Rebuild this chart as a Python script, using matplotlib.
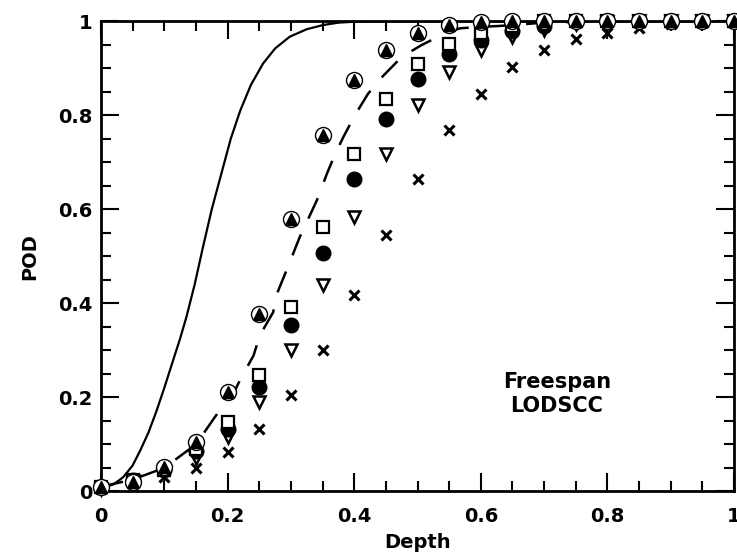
import matplotlib
matplotlib.use('Agg')
import matplotlib.pyplot as plt
from matplotlib.ticker import MultipleLocator

plt.rcParams['font.family'] = ['DejaVu Sans']
plt.rcParams['font.weight'] = 'bold'

# solid curve
curve_x = [0.0, 0.02, 0.035, 0.05, 0.062, 0.075, 0.088, 0.1, 0.114, 0.125, 0.135, 0.148,
           0.16, 0.175, 0.193, 0.205, 0.22, 0.237, 0.256, 0.275, 0.298, 0.325, 0.351, 0.375,
           0.4, 0.45, 0.5, 1.0]
curve_y = [0.006, 0.015, 0.03, 0.055, 0.087, 0.125, 0.172, 0.22, 0.279, 0.325, 0.371, 0.44,
           0.513, 0.6, 0.69, 0.75, 0.81, 0.865, 0.91, 0.942, 0.967, 0.983, 0.992, 0.997,
           0.999, 1.0, 1.0, 1.0]

# dashed curve
dash_x = [0.0, 0.05, 0.1, 0.15, 0.182, 0.209, 0.222, 0.241, 0.251, 0.272, 0.277, 0.293,
          0.314, 0.341, 0.357, 0.37, 0.383, 0.401, 0.422, 0.443, 0.475, 0.506, 0.543,
          0.567, 0.599, 0.63, 0.7, 0.8, 1.0]
dash_y = [0.01, 0.025, 0.05, 0.1, 0.162, 0.208, 0.243, 0.289, 0.332, 0.381, 0.417, 0.47,
          0.541, 0.619, 0.676, 0.718, 0.754, 0.8, 0.846, 0.88, 0.924, 0.949, 0.974,
          0.985, 0.988, 0.99, 0.997, 1.0, 1.0]

depth = [0.0, 0.05, 0.1, 0.15, 0.2, 0.25, 0.3, 0.35, 0.4, 0.45, 0.5,
         0.55, 0.6, 0.65, 0.7, 0.75, 0.8, 0.85, 0.9, 0.95, 1.0]
pod_circ_tri = [0.01, 0.02, 0.052, 0.105, 0.211, 0.378, 0.58, 0.757, 0.874, 0.938, 0.974,
                0.991, 0.998, 1.0, 1.0, 1.0, 1.0, 1.0, 1.0, 1.0, 1.0]
pod_square = [0.01, 0.025, 0.045, 0.09, 0.147, 0.247, 0.392, 0.562, 0.718, 0.835, 0.91,
              0.952, 0.975, 0.99, 1.0, 1.0, 1.0, 1.0, 1.0, 1.0, 1.0]
pod_dot = [0.01, 0.025, 0.045, 0.085, 0.133, 0.222, 0.353, 0.506, 0.665, 0.793, 0.878,
           0.931, 0.96, 0.98, 0.99, 1.0, 1.0, 1.0, 1.0, 1.0, 1.0]
pod_tri_down = [0.005, 0.023, 0.038, 0.07, 0.116, 0.19, 0.3, 0.438, 0.584, 0.718, 0.821,
                0.892, 0.938, 0.967, 0.981, 0.995, 0.998, 1.0, 1.0, 1.0, 1.0]
pod_cross = [0.005, 0.02, 0.03, 0.049, 0.084, 0.133, 0.204, 0.3, 0.417, 0.545, 0.665,
             0.768, 0.846, 0.903, 0.938, 0.963, 0.974, 0.985, 0.995, 1.0, 1.0]

fig = plt.figure(figsize=(7.37, 5.59), dpi=100)
ax = fig.add_axes([0.137, 0.121, 0.859, 0.841])

ax.plot(curve_x, curve_y, color='black', lw=1.6, zorder=2)
ax.plot(dash_x, dash_y, color='black', lw=1.8, dashes=(9, 7), zorder=2)

kw = dict(clip_on=False, zorder=3)
ax.plot(depth, pod_cross, linestyle='none', marker='x', ms=7, mew=2.2, color='black', **kw)
ax.plot(depth, pod_tri_down, linestyle='none', marker='v', ms=8, mew=1.8,
        mfc='white', mec='black', **kw)
ax.plot(depth, pod_dot, linestyle='none', marker='o', ms=10.5, color='black', **kw)
ax.plot(depth, pod_square, linestyle='none', marker='s', ms=8, mew=1.6,
        mfc='white', mec='black', **kw)
ax.plot(depth, pod_circ_tri, linestyle='none', marker='o', ms=11.5, mew=1.0,
        mfc='white', mec='black', **kw)
ax.plot(depth, pod_circ_tri, linestyle='none', marker='^', ms=8.5, color='black', **kw)

ax.set_xlim(0, 1)
ax.set_ylim(0, 1)
ax.xaxis.set_major_locator(MultipleLocator(0.2))
ax.xaxis.set_minor_locator(MultipleLocator(0.05))
ax.yaxis.set_major_locator(MultipleLocator(0.2))
ax.yaxis.set_minor_locator(MultipleLocator(0.05))
ax.xaxis.set_major_formatter(plt.FuncFormatter(lambda v, p: '%g' % round(v, 2)))
ax.yaxis.set_major_formatter(plt.FuncFormatter(lambda v, p: '%g' % round(v, 2)))
ax.tick_params(which='both', direction='in', top=True, right=True, width=1.5,
               labelsize=14)
ax.tick_params(axis='x', which='major', pad=11)
ax.tick_params(axis='y', which='major', pad=6)
ax.tick_params(which='major', length=13)
ax.tick_params(which='minor', length=7)
for lab in ax.get_xticklabels() + ax.get_yticklabels():
    lab.set_fontweight('bold')
for sp in ax.spines.values():
    sp.set_linewidth(2)

ax.set_xlabel('Depth', fontsize=14, fontweight='bold', labelpad=5)
ax.set_ylabel('POD', fontsize=14, fontweight='bold', labelpad=14)

ax.text(0.72, 0.207, 'Freespan\nLODSCC', fontsize=15, fontweight='bold',
        ha='center', va='center', linespacing=1.3)

fig.savefig('out.png', dpi=100)
plt.close(fig)
